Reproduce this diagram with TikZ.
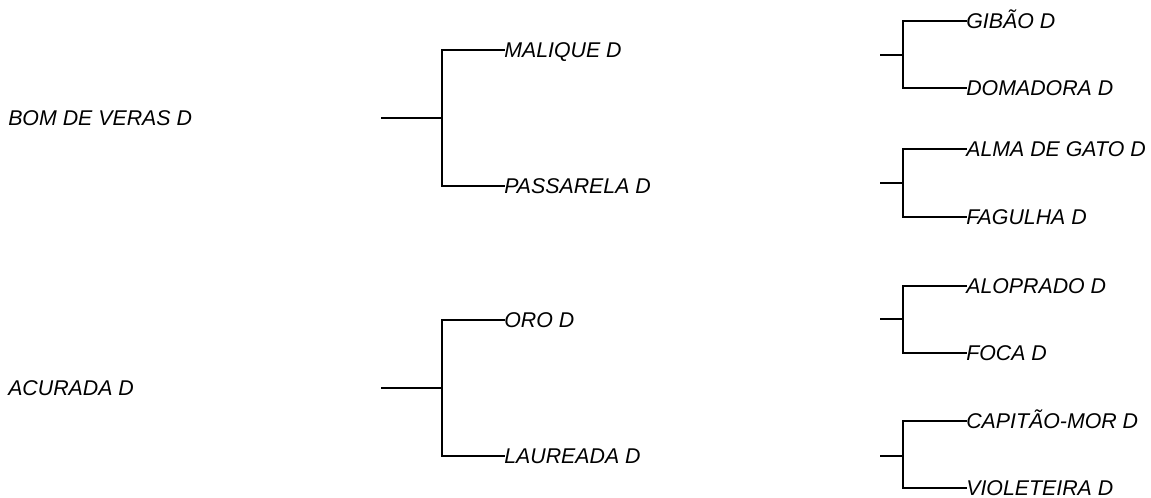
\documentclass[tikz,border=0pt]{standalone}
\usepackage{fontspec}
\setmainfont{Liberation Sans}
\begin{document}
\begin{tikzpicture}[x=0.75pt,y=-0.75pt,
  lbl/.style={anchor=west,inner sep=0pt,font=\itshape\fontsize{16}{19}\selectfont,text height=11.5pt,text depth=0pt},
  br/.style={line width=2pt,line cap=rect}]
\useasboundingbox (0,0) rectangle (1151,497);
% left labels
\node[lbl] (bom) at (8,118) {BOM DE VERAS D};
\node[lbl] (acu) at (8,388) {ACURADA D};
% middle trees
\coordinate (s1) at (382,118);
\coordinate (j1) at (442,118);
\node[lbl] (mal) at (504,50) {MALIQUE D};
\node[lbl] (pas) at (504,186) {PASSARELA D};
\draw[br] (s1) -- (j1);
\draw[br] (mal.west) -| (j1) |- (pas.west);
\coordinate (s2) at (382,388);
\coordinate (j2) at (442,388);
\node[lbl] (oro) at (504,320) {ORO D};
\node[lbl] (lau) at (504,456) {LAUREADA D};
\draw[br] (s2) -- (j2);
\draw[br] (oro.west) -| (j2) |- (lau.west);
% right trees
\coordinate (s3) at (881,55);
\coordinate (j3) at (903,55);
\node[lbl] (gib) at (966,21) {GIBÃO D};
\node[lbl] (dom) at (966,88) {DOMADORA D};
\draw[br] (s3) -- (j3);
\draw[br] (gib.west) -| (j3) |- (dom.west);
\coordinate (s4) at (881,183);
\coordinate (j4) at (903,183);
\node[lbl] (alm) at (966,149) {ALMA DE GATO D};
\node[lbl] (fag) at (966,217) {FAGULHA D};
\draw[br] (s4) -- (j4);
\draw[br] (alm.west) -| (j4) |- (fag.west);
\coordinate (s5) at (881,319);
\coordinate (j5) at (903,319);
\node[lbl] (alo) at (966,286) {ALOPRADO D};
\node[lbl] (foc) at (966,353) {FOCA D};
\draw[br] (s5) -- (j5);
\draw[br] (alo.west) -| (j5) |- (foc.west);
\coordinate (s6) at (881,456);
\coordinate (j6) at (903,456);
\node[lbl] (cap) at (966,421) {CAPITÃO-MOR D};
\node[lbl] (vio) at (966,488) {VIOLETEIRA D};
\draw[br] (s6) -- (j6);
\draw[br] (cap.west) -| (j6) |- (vio.west);
\end{tikzpicture}
\end{document}
